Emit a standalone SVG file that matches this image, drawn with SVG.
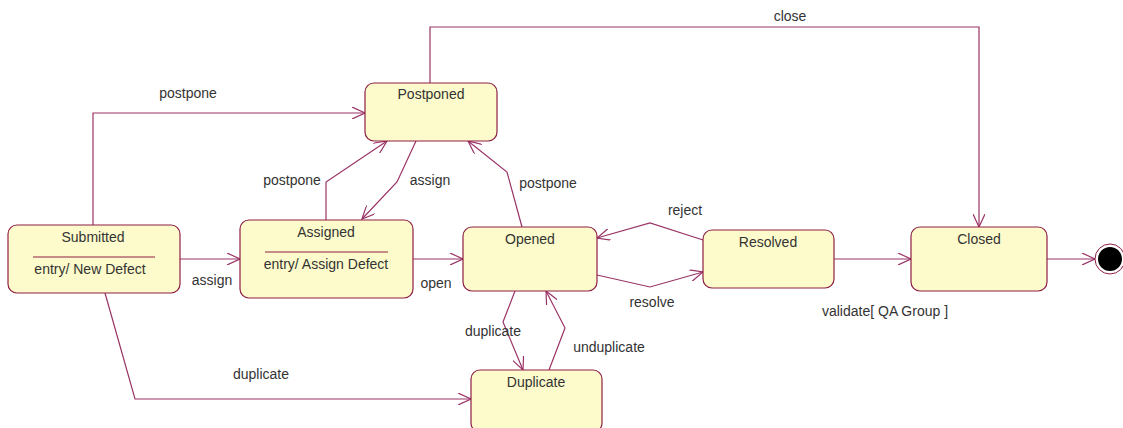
<svg xmlns="http://www.w3.org/2000/svg" width="1123" height="428" viewBox="0 0 1123 428">
<defs>
<style>
.st{fill:#fdfbcb;stroke:#8f1f45;stroke-width:1.2}
.dv{stroke:#8f1f45;stroke-width:1}
.c{fill:none;stroke:#993366;stroke-width:1.2}
text{font-family:"Liberation Sans",Arial,sans-serif;font-size:14px;fill:#333}
.m{text-anchor:middle}
</style>
<marker id="a" markerWidth="14" markerHeight="12" refX="13" refY="6" orient="auto" markerUnits="userSpaceOnUse">
<path d="M0,0 L13,6 L0,12" fill="none" stroke="#993366" stroke-width="1.2"/>
</marker>
</defs>
<rect width="1123" height="428" fill="#fff"/>
<g id="connectors">
<path class="c" d="M180,259 H240" marker-end="url(#a)"/>
<text x="212" y="285" class="m">assign</text>
<path class="c" d="M413,259 H463" marker-end="url(#a)"/>
<text x="436" y="288" class="m">open</text>
<path class="c" d="M93,225 V113 H365" marker-end="url(#a)"/>
<text x="188" y="98" class="m">postpone</text>
<path class="c" d="M430,83 V27 H979 V227" marker-end="url(#a)"/>
<text x="790" y="21" class="m">close</text>
<path class="c" d="M326,220 V182 L387,141" marker-end="url(#a)"/>
<text x="292" y="185" class="m">postpone</text>
<path class="c" d="M416,141 L397,182 L362,219" marker-end="url(#a)"/>
<text x="430" y="185" class="m">assign</text>
<path class="c" d="M522,227 L507,172 L468,141" marker-end="url(#a)"/>
<text x="548" y="188" class="m">postpone</text>
<path class="c" d="M703,240 L650,223 L597,238" marker-end="url(#a)"/>
<text x="685" y="215" class="m">reject</text>
<path class="c" d="M597,275 L650,287 L703,272" marker-end="url(#a)"/>
<text x="652" y="307" class="m">resolve</text>
<path class="c" d="M834,259 H911" marker-end="url(#a)"/>
<text x="885" y="316" class="m">validate[ QA Group ]</text>
<path class="c" d="M1047,259 H1095" marker-end="url(#a)"/>
<path class="c" d="M515,291 L503,322 L523,370" marker-end="url(#a)"/>
<text x="493" y="336" class="m">duplicate</text>
<path class="c" d="M549,370 L565,328 L546,291" marker-end="url(#a)"/>
<text x="609" y="352" class="m">unduplicate</text>
<path class="c" d="M105,293 L135,399 H471" marker-end="url(#a)"/>
<text x="261" y="379" class="m">duplicate</text>
</g>
<g id="submitted">
<rect class="st" x="8" y="225" width="172" height="68" rx="9"/>
<text x="93" y="242" class="m">Submitted</text>
<line class="dv" x1="33" y1="257" x2="155" y2="257"/>
<text x="90" y="274" class="m">entry/ New Defect</text>
</g>
<g id="assigned">
<rect class="st" x="240" y="220" width="173" height="78" rx="9"/>
<text x="326" y="237" class="m">Assigned</text>
<line class="dv" x1="265" y1="252" x2="388" y2="252"/>
<text x="326" y="269" class="m">entry/ Assign Defect</text>
</g>
<g id="postponed">
<rect class="st" x="365" y="83" width="132" height="58" rx="9"/>
<text x="431" y="99" class="m">Postponed</text>
</g>
<g id="opened">
<rect class="st" x="463" y="227" width="134" height="64" rx="9"/>
<text x="530" y="244" class="m">Opened</text>
</g>
<g id="resolved">
<rect class="st" x="703" y="230" width="131" height="58" rx="9"/>
<text x="768" y="247" class="m">Resolved</text>
</g>
<g id="closed">
<rect class="st" x="911" y="227" width="136" height="64" rx="9"/>
<text x="979" y="244" class="m">Closed</text>
</g>
<g id="duplicate">
<rect class="st" x="471" y="370" width="131" height="62" rx="9"/>
<text x="536" y="387" class="m">Duplicate</text>
</g>
<g id="final">
<circle cx="1110" cy="259" r="15" fill="#fff" stroke="#8f1f45" stroke-width="1"/>
<circle cx="1110" cy="259" r="12" fill="#000"/>
</g>
</svg>
